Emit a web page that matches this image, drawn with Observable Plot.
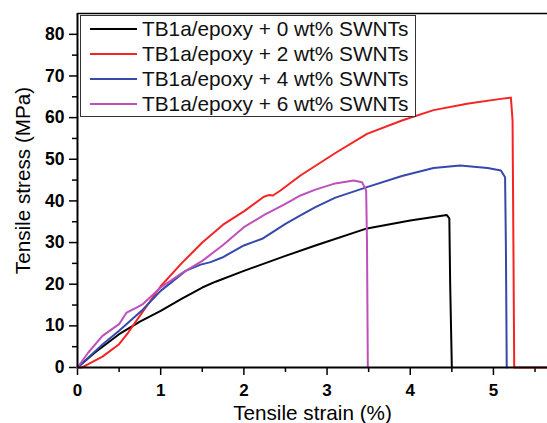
<!DOCTYPE html>
<html><head><meta charset="utf-8">
<script src="https://cdn.jsdelivr.net/npm/d3@7"></script>
<script src="https://cdn.jsdelivr.net/npm/@observablehq/plot@0.6"></script>
<style>body{margin:0;background:#fff}</style>
</head><body><div id="chart"></div>
<script>
const seriesNames = ["TB1a/epoxy + 0 wt% SWNTs","TB1a/epoxy + 2 wt% SWNTs","TB1a/epoxy + 4 wt% SWNTs","TB1a/epoxy + 6 wt% SWNTs"];
const seriesColors = ["#000000","#f42424","#3549ad","#be50bc"];

const strain0 = [0,0.21,0.5,0.75,1.0,1.25,1.5,1.66,2.0,2.5,2.86,3.48,4.0,4.44,4.47,4.48,4.5];
const stress0 = [0,3.6,8.0,11.0,13.6,16.5,19.2,20.6,23.2,26.8,29.3,33.4,35.3,36.6,35.8,20,0];

const strain2 = [0,0.05,0.09,0.3,0.5,0.61,0.77,1.0,1.25,1.5,1.75,2.0,2.24,2.30,2.35,2.44,2.6,2.68,3.1,3.48,3.9,4.28,4.7,5.09,5.21,5.23,5.24,5.25,5.65];
const stress2 = [0,0,0.4,2.6,5.6,8.4,13.0,19.5,25.0,30.0,34.3,37.5,41.0,41.4,41.3,42.5,44.9,46.1,51.5,56.1,59.3,61.8,63.4,64.5,64.8,59.3,30,0,0];

const strain4 = [0,0.1,0.3,0.5,0.77,1.0,1.3,1.48,1.6,1.74,2.0,2.22,2.5,2.68,2.86,3.1,3.48,3.9,4.28,4.6,4.93,5.09,5.14,5.15,5.16];
const stress4 = [0,1.8,5.5,8.8,13.6,18.4,23.2,24.7,25.3,26.4,29.3,30.9,34.5,36.5,38.5,40.8,43.3,46.0,47.9,48.5,47.9,47.3,45.7,28.8,0];

const strain6 = [0,0.13,0.3,0.5,0.59,0.71,0.79,1.0,1.25,1.5,1.75,2.0,2.25,2.5,2.68,2.86,3.08,3.32,3.42,3.47,3.48,3.49];
const stress6 = [0,3.6,7.6,10.4,13.2,14.4,15.3,19.2,22.6,25.6,29.4,33.7,36.7,39.3,41.3,42.7,44.1,44.9,44.5,42.5,30,0];

const xMajorTicks = [0,1,2,3,4,5];
const xMinorTicks = [0.5,1.5,2.5,3.5,4.5,5.5];
const yMajorTicks = [0,10,20,30,40,50,60,70,80];
const yMinorTicks = [5,15,25,35,45,55,65,75];

const strains = [strain0, strain2, strain4, strain6];
const stresses = [stress0, stress2, stress4, stress6];
const rows = [];
seriesNames.forEach((name, i) => {
  strains[i].forEach((s, j) => rows.push({series: name, strain: s, stress: stresses[i][j]}));
});

const font = "'Liberation Sans', Arial, sans-serif";
const plot = Plot.plot({
  width: 547, height: 423,
  marginLeft: 77, marginRight: 0, marginTop: 13, marginBottom: 56,
  style: {fontFamily: font, background: "#fff", color: "#000", overflow: "visible"},
  x: {domain: [0, 5.65]},
  y: {domain: [0, 85]},
  color: {domain: seriesNames, range: seriesColors},
  marks: [
    Plot.axisY(yMinorTicks, {tickSize: 5, tickFormat: () => "", strokeWidth: 1.5, label: null}),
    Plot.axisY(yMajorTicks, {tickSize: 8, tickPadding: 5, fontSize: 17.5, fontWeight: "bold", strokeWidth: 1.5, label: null, tickFormat: d => String(d)}),
    Plot.axisX(xMinorTicks, {tickSize: 5, tickFormat: () => "", strokeWidth: 1.5, label: null}),
    Plot.axisX(xMajorTicks, {tickSize: 8, tickPadding: 8, fontSize: 17, fontWeight: "bold", strokeWidth: 1.5, label: null, tickFormat: d => String(d)}),
    Plot.line(rows, {x: "strain", y: "stress", z: "series", stroke: "series", strokeWidth: 2, curve: "linear"}),
    Plot.ruleY([85], {stroke: "#000", strokeWidth: 1.5}),
    Plot.ruleX([0], {stroke: "#000", strokeWidth: 2}),
    Plot.ruleY([0], {stroke: "#000", strokeWidth: 2}),
    Plot.text(["Tensile stress (MPa)"], {frameAnchor: "left", rotate: -90, dx: -54, dy: -10, fontSize: 20.7, textAnchor: "middle", lineAnchor: "middle"}),
    Plot.text(["Tensile strain (%)"], {frameAnchor: "bottom", dy: 46, fontSize: 20.7, textAnchor: "middle", lineAnchor: "middle"})
  ]
});

const svg = d3.select(plot);
const lg = svg.append("g").attr("font-family", font).attr("text-anchor", "start");
lg.append("rect").attr("x", 80.5).attr("y", 15.5).attr("width", 335).attr("height", 101)
  .attr("fill", "#fff").attr("stroke", "#333").attr("stroke-width", 1);
seriesNames.forEach((name, i) => {
  const y = 29 + i * 25;
  lg.append("line").attr("x1", 90).attr("x2", 137).attr("y1", y).attr("y2", y)
    .attr("stroke", seriesColors[i]).attr("stroke-width", 2);
  lg.append("text").attr("x", 142).attr("y", y).attr("dy", "0.35em")
    .attr("text-anchor", "start").attr("font-size", 20.8).attr("fill", "#111").text(name);
});
document.getElementById("chart").appendChild(plot);
</script>
</body></html>
